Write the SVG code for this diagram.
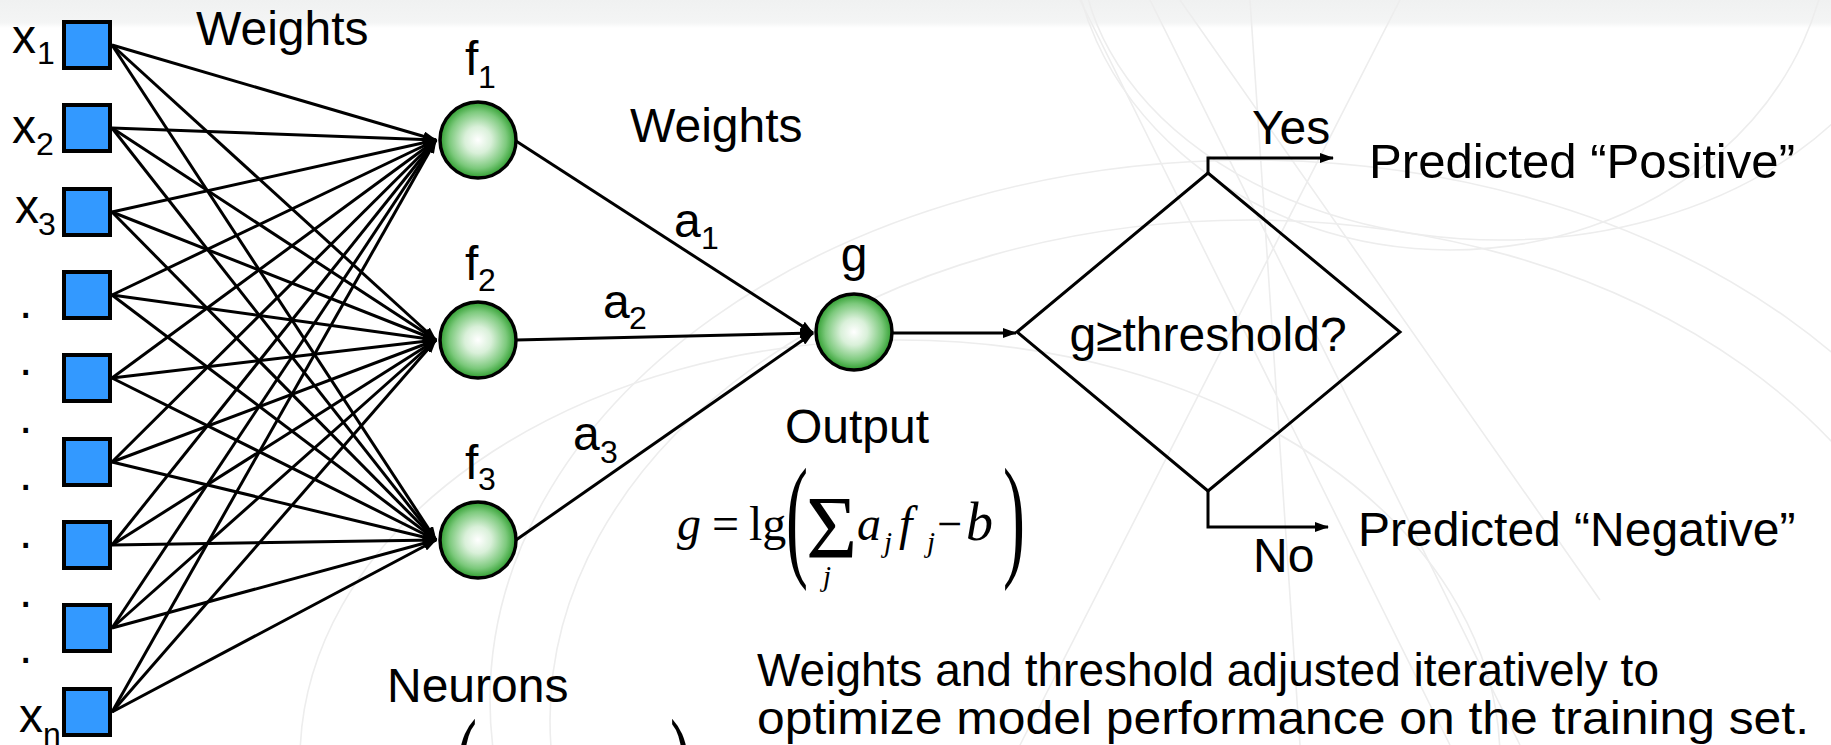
<svg xmlns="http://www.w3.org/2000/svg" width="1831" height="745" viewBox="0 0 1831 745">
<style>
.t{font-family:"Liberation Sans",Arial,sans-serif;font-size:48px;fill:#000}
.p{font-family:"Liberation Sans",Arial,sans-serif;font-size:46px;fill:#000}
.s{font-family:"Liberation Sans",Arial,sans-serif;font-size:32px;fill:#000}
.m{font-family:"Liberation Serif","Times New Roman",serif;font-size:48px;fill:#000}
.mi{font-family:"Liberation Serif","Times New Roman",serif;font-size:48px;font-style:italic;fill:#000}
.ms{font-family:"Liberation Serif","Times New Roman",serif;font-size:29px;font-style:italic;fill:#000}
.pr{font-family:"Liberation Serif","Times New Roman",serif;font-size:44px;fill:#000}
.sq{fill:#3399ff;stroke:#000;stroke-width:4}
.nd{fill:url(#gr);stroke:#000;stroke-width:3.5}
.ln{stroke:#000;stroke-width:3;fill:none}
.bg{fill:none;stroke:#ededed;stroke-width:1.6}
</style>
<defs>
<radialGradient id="gr" cx="50%" cy="50%" r="50%">
<stop offset="0" stop-color="#ffffff"/>
<stop offset="0.35" stop-color="#d9f0d9"/>
<stop offset="0.75" stop-color="#7cc97c"/>
<stop offset="1" stop-color="#2f9e2f"/>
</radialGradient>
<linearGradient id="top" x1="0" y1="0" x2="0" y2="1">
<stop offset="0" stop-color="#f0f1f1"/>
<stop offset="0.8" stop-color="#f4f5f5"/>
<stop offset="1" stop-color="#ffffff"/>
</linearGradient>
<marker id="ah" viewBox="0 0 14 10" markerWidth="14" markerHeight="10" refX="13" refY="5" orient="auto" markerUnits="userSpaceOnUse">
<path d="M0,0 L14,5 L0,10 z" fill="#000"/>
</marker>
</defs>
<rect width="1831" height="745" fill="#ffffff"/>
<rect width="1831" height="28" fill="url(#top)"/>
<g id="background">
<ellipse class="bg" cx="1250" cy="700" rx="760" ry="540"/>
<ellipse class="bg" cx="1250" cy="720" rx="700" ry="500"/>
<ellipse class="bg" cx="900" cy="760" rx="600" ry="420"/>
<ellipse class="bg" cx="1500" cy="-60" rx="420" ry="300"/>
<ellipse class="bg" cx="1450" cy="-80" rx="380" ry="330"/>
<path class="bg" d="M1080,0 L1450,745 M1150,0 L1520,745 M1250,0 L1300,745 M1400,0 L1020,745 M1180,0 L1600,600"/>
</g>
<g id="connectors">
<line class="ln" x1="112" y1="45" x2="436" y2="140" marker-end="url(#ah)"/>
<line class="ln" x1="112" y1="45" x2="436" y2="340" marker-end="url(#ah)"/>
<line class="ln" x1="112" y1="45" x2="436" y2="540" marker-end="url(#ah)"/>
<line class="ln" x1="112" y1="128" x2="436" y2="140" marker-end="url(#ah)"/>
<line class="ln" x1="112" y1="128" x2="436" y2="340" marker-end="url(#ah)"/>
<line class="ln" x1="112" y1="128" x2="436" y2="540" marker-end="url(#ah)"/>
<line class="ln" x1="112" y1="212" x2="436" y2="140" marker-end="url(#ah)"/>
<line class="ln" x1="112" y1="212" x2="436" y2="340" marker-end="url(#ah)"/>
<line class="ln" x1="112" y1="212" x2="436" y2="540" marker-end="url(#ah)"/>
<line class="ln" x1="112" y1="295" x2="436" y2="140" marker-end="url(#ah)"/>
<line class="ln" x1="112" y1="295" x2="436" y2="340" marker-end="url(#ah)"/>
<line class="ln" x1="112" y1="295" x2="436" y2="540" marker-end="url(#ah)"/>
<line class="ln" x1="112" y1="378" x2="436" y2="140" marker-end="url(#ah)"/>
<line class="ln" x1="112" y1="378" x2="436" y2="340" marker-end="url(#ah)"/>
<line class="ln" x1="112" y1="378" x2="436" y2="540" marker-end="url(#ah)"/>
<line class="ln" x1="112" y1="462" x2="436" y2="140" marker-end="url(#ah)"/>
<line class="ln" x1="112" y1="462" x2="436" y2="340" marker-end="url(#ah)"/>
<line class="ln" x1="112" y1="462" x2="436" y2="540" marker-end="url(#ah)"/>
<line class="ln" x1="112" y1="545" x2="436" y2="140" marker-end="url(#ah)"/>
<line class="ln" x1="112" y1="545" x2="436" y2="340" marker-end="url(#ah)"/>
<line class="ln" x1="112" y1="545" x2="436" y2="540" marker-end="url(#ah)"/>
<line class="ln" x1="112" y1="628" x2="436" y2="140" marker-end="url(#ah)"/>
<line class="ln" x1="112" y1="628" x2="436" y2="340" marker-end="url(#ah)"/>
<line class="ln" x1="112" y1="628" x2="436" y2="540" marker-end="url(#ah)"/>
<line class="ln" x1="112" y1="712" x2="436" y2="140" marker-end="url(#ah)"/>
<line class="ln" x1="112" y1="712" x2="436" y2="340" marker-end="url(#ah)"/>
<line class="ln" x1="112" y1="712" x2="436" y2="540" marker-end="url(#ah)"/>
<line class="ln" x1="516" y1="141" x2="813" y2="333" marker-end="url(#ah)"/>
<line class="ln" x1="516" y1="340" x2="813" y2="333" marker-end="url(#ah)"/>
<line class="ln" x1="516" y1="540" x2="813" y2="333" marker-end="url(#ah)"/>
<line class="ln" x1="892" y1="333" x2="1016" y2="333" marker-end="url(#ah)"/>
<path class="ln" d="M1208,173 V158 H1333" marker-end="url(#ah)"/>
<path class="ln" d="M1208,491 V527 H1328" marker-end="url(#ah)"/>
</g>
<g id="inputs">
<rect class="sq" x="64" y="22" width="46" height="46"/>
<rect class="sq" x="64" y="105" width="46" height="46"/>
<rect class="sq" x="64" y="189" width="46" height="46"/>
<rect class="sq" x="64" y="272" width="46" height="46"/>
<rect class="sq" x="64" y="355" width="46" height="46"/>
<rect class="sq" x="64" y="439" width="46" height="46"/>
<rect class="sq" x="64" y="522" width="46" height="46"/>
<rect class="sq" x="64" y="605" width="46" height="46"/>
<rect class="sq" x="64" y="689" width="46" height="46"/>
<text class="t" x="12" y="53">x</text><text class="s" x="37" y="64">1</text>
<text class="t" x="12" y="143">x</text><text class="s" x="36" y="155">2</text>
<text class="t" x="15" y="223">x</text><text class="s" x="38" y="235">3</text>
<text class="t" x="19" y="318">.</text>
<text class="t" x="19" y="375">.</text>
<text class="t" x="19" y="433">.</text>
<text class="t" x="19" y="490">.</text>
<text class="t" x="19" y="548">.</text>
<text class="t" x="19" y="607">.</text>
<text class="t" x="19" y="663">.</text>
<text class="t" x="19" y="732">x</text><text class="s" x="43" y="745">n</text>
</g>
<g id="f1">
<circle class="nd" cx="478" cy="140" r="38"/>
<text class="t" x="465" y="75">f</text><text class="s" x="478" y="88">1</text>
</g>
<g id="f2">
<circle class="nd" cx="478" cy="340" r="38"/>
<text class="t" x="465" y="280">f</text><text class="s" x="478" y="291">2</text>
</g>
<g id="f3">
<circle class="nd" cx="478" cy="540" r="38"/>
<text class="t" x="465" y="479">f</text><text class="s" x="478" y="490">3</text>
</g>
<g id="g">
<circle class="nd" cx="854" cy="332" r="38"/>
<text class="t" x="854" y="271" text-anchor="middle">g</text>
</g>
<g id="decision">
<polygon points="1017,332 1208,173 1400,332 1208,491" fill="none" stroke="#000" stroke-width="3"/>
<text class="t" x="1208" y="351" text-anchor="middle">g≥threshold?</text>
</g>
<g id="labels">
<text class="t" x="196" y="45">Weights</text>
<text class="t" x="630" y="142">Weights</text>
<text class="t" x="674" y="237">a</text><text class="s" x="701" y="249">1</text>
<text class="t" x="603" y="318">a</text><text class="s" x="629" y="329">2</text>
<text class="t" x="573" y="450">a</text><text class="s" x="600" y="463">3</text>
<text class="t" x="785" y="443">Output</text>
<text class="t" x="387" y="702">Neurons</text>
<text class="t" x="1252" y="144">Yes</text>
<text class="t" x="1369" y="178" textLength="426" lengthAdjust="spacingAndGlyphs">Predicted “Positive”</text>
<text class="t" x="1253" y="572">No</text>
<text class="t" x="1358" y="546">Predicted “Negative”</text>
<text class="p" x="757" y="686" textLength="902" lengthAdjust="spacingAndGlyphs">Weights and threshold adjusted iteratively to</text>
<text class="p" x="757" y="734" textLength="1052" lengthAdjust="spacingAndGlyphs">optimize model performance on the training set.</text>
</g>
<g id="formula">
<text class="mi" x="677" y="540">g</text>
<text class="m" x="712" y="540">=</text>
<text class="m" x="749" y="540">lg</text>
<text class="pr" transform="translate(786,467) scale(1.5,3.1)" x="0" y="30.6">(</text>
<text class="m" x="806" y="557" style="font-size:88px">Σ</text>
<text class="ms" x="823" y="586">j</text>
<text class="mi" x="857" y="540">a</text>
<text class="ms" x="884" y="552">j</text>
<text class="mi" x="899" y="540">f</text>
<text class="ms" x="927" y="552">j</text>
<text class="m" x="937" y="540" textLength="25" lengthAdjust="spacingAndGlyphs">−</text>
<text class="mi" x="966" y="540" style="font-size:54px">b</text>
<text class="pr" transform="translate(1003,467) scale(1.5,3.1)" x="0" y="30.6">)</text>
<text class="pr" transform="translate(455,718) scale(1.5,3.1)" x="0" y="30.6">(</text>
<text class="pr" transform="translate(670,718) scale(1.5,3.1)" x="0" y="30.6">)</text>
</g>
</svg>
